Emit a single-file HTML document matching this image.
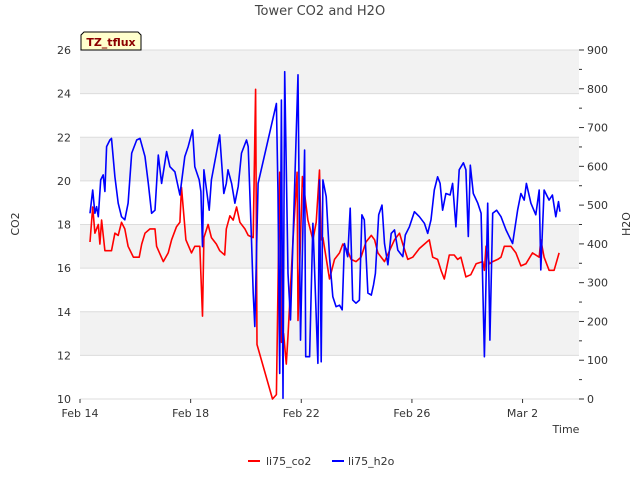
<!DOCTYPE html>
<html><head><meta charset="utf-8"><style>
body{margin:0;background:#fff;}
svg text{font-family:"DejaVu Sans","Liberation Sans",sans-serif;}
</style></head><body>
<svg id="chart" width="640" height="480" viewBox="0 0 640 480" xmlns="http://www.w3.org/2000/svg">
<text x="320" y="15" text-anchor="middle" font-size="13" fill="#444">Tower CO2 and H2O</text>
<g id="bands"></g>
<g id="grid"></g>
<g id="series"></g>
<g id="axes"></g>
<g>
<path d="M81,50 L81,35 L84,32 L138,32 L141,35 L141,50 Z" fill="#ffffcc" stroke="#000" stroke-width="1"/>
<text x="111" y="46" text-anchor="middle" font-size="11" font-weight="bold" fill="#8b0000">TZ_tflux</text>
</g>
<text transform="translate(19,224) rotate(-90)" text-anchor="middle" font-size="11" fill="#333">CO2</text>
<text transform="translate(630,224) rotate(-90)" text-anchor="middle" font-size="11" fill="#333">H2O</text>
<text x="566" y="433" text-anchor="middle" font-size="11" fill="#333">Time</text>
<g>
<line x1="248" y1="461" x2="260" y2="461" stroke="#f00" stroke-width="2"/>
<text x="266" y="465" font-size="11" fill="#333">li75_co2</text>
</g>
<g>
<line x1="332" y1="461" x2="344" y2="461" stroke="#00f" stroke-width="2"/>
<text x="348" y="465" font-size="11" fill="#333">li75_h2o</text>
</g>
</svg>
<script>
const xTickLabels=["Feb 14","Feb 18","Feb 22","Feb 26","Mar 2"];
const xTickDays=[0,4,8,12,16];
const leftTicks=[10,12,14,16,18,20,22,24,26];
const rightTicks=[0,100,200,300,400,500,600,700,800,900];
const co2Days=[0.36,0.46,0.54,0.66,0.72,0.78,0.90,1.14,1.26,1.38,1.50,1.62,1.74,1.93,2.14,2.23,2.35,2.53,2.71,2.77,3.01,3.19,3.31,3.49,3.61,3.67,3.83,4.03,4.15,4.33,4.43,4.48,4.63,4.75,4.93,5.05,5.23,5.29,5.42,5.54,5.66,5.78,5.96,6.08,6.26,6.35,6.40,6.96,7.10,7.22,7.28,7.36,7.46,7.52,7.70,7.85,7.88,8.04,8.24,8.42,8.54,8.66,8.72,8.78,9.02,9.20,9.38,9.50,9.68,9.80,9.98,10.16,10.34,10.53,10.65,10.77,11.01,11.19,11.37,11.55,11.67,11.85,12.03,12.27,12.45,12.63,12.75,12.93,13.05,13.17,13.35,13.53,13.65,13.77,13.95,14.13,14.32,14.56,14.62,14.68,14.80,14.92,15.10,15.22,15.34,15.58,15.76,15.94,16.12,16.36,16.60,16.66,16.78,16.96,17.14,17.32];
const co2Values=[17.2,18.8,17.6,18.0,17.1,18.2,16.8,16.8,17.6,17.5,18.1,17.8,17.0,16.5,16.5,17.1,17.6,17.8,17.8,17.0,16.3,16.7,17.3,17.9,18.1,19.7,17.3,16.7,17.0,17.0,13.8,17.4,18.0,17.4,17.1,16.8,16.6,17.8,18.4,18.2,18.8,18.1,17.8,17.5,17.4,24.2,12.5,10.0,10.2,20.4,12.6,13.0,11.6,12.9,17.3,20.4,13.6,20.2,18.2,17.3,18.1,20.5,17.3,17.4,15.5,16.4,16.7,17.1,16.8,16.4,16.3,16.5,17.2,17.5,17.3,16.7,16.3,16.8,17.3,17.6,17.1,16.4,16.5,16.9,17.1,17.3,16.5,16.4,15.9,15.5,16.6,16.6,16.4,16.5,15.6,15.7,16.2,16.3,15.9,17.0,16.2,16.3,16.4,16.5,17.0,17.0,16.7,16.1,16.2,16.7,16.5,17.3,16.5,15.9,15.9,16.7];
const h2oDays=[0.36,0.46,0.54,0.60,0.66,0.75,0.84,0.90,0.96,1.08,1.14,1.26,1.38,1.50,1.62,1.74,1.87,2.05,2.17,2.35,2.47,2.59,2.71,2.83,2.95,3.13,3.25,3.43,3.61,3.79,3.91,4.07,4.15,4.31,4.37,4.43,4.48,4.67,4.75,4.93,5.05,5.20,5.29,5.35,5.48,5.60,5.72,5.84,6.02,6.08,6.20,6.26,6.32,6.44,7.10,7.16,7.22,7.28,7.34,7.40,7.52,7.61,7.70,7.88,7.97,8.12,8.16,8.30,8.42,8.60,8.66,8.72,8.78,8.90,9.02,9.14,9.26,9.38,9.48,9.56,9.68,9.77,9.86,9.98,10.10,10.19,10.28,10.41,10.53,10.61,10.68,10.80,10.92,11.01,11.13,11.25,11.37,11.49,11.67,11.76,11.91,12.09,12.27,12.45,12.57,12.69,12.81,12.93,13.02,13.11,13.23,13.38,13.47,13.59,13.71,13.86,13.95,14.04,14.11,14.22,14.38,14.50,14.62,14.74,14.82,14.92,15.06,15.22,15.40,15.64,15.82,15.94,16.06,16.14,16.30,16.48,16.60,16.66,16.78,16.96,17.08,17.20,17.30,17.35];
const h2oValues=[479,539,479,496,470,565,578,535,651,668,672,573,505,470,462,505,634,668,672,625,556,479,487,629,556,638,599,586,526,625,651,694,599,565,535,393,591,487,565,634,681,530,556,591,556,505,548,634,668,651,410,273,187,556,762,530,66,771,2,844,324,204,410,836,152,642,109,109,453,92,565,96,565,522,367,264,238,242,230,401,367,492,255,247,255,475,462,273,268,294,324,475,500,401,346,427,436,384,367,423,444,483,470,453,427,462,539,573,556,487,530,526,556,444,591,609,591,419,603,530,505,479,109,505,152,479,487,470,436,401,487,530,513,556,505,475,539,333,539,513,526,470,509,483];

const NS="http://www.w3.org/2000/svg";
const X0=80,X1=579,Y0=50,Y1=399,PXD=27.66;
function xs(d){return X0+d*PXD;}
function yl(v){return Y1-(v-10)/16*(Y1-Y0);}
function yr(v){return Y1-v/900*(Y1-Y0);}
function mk(tag,attrs,parent){const e=document.createElementNS(NS,tag);for(const k in attrs)e.setAttribute(k,attrs[k]);parent.appendChild(e);return e;}
const bands=document.getElementById('bands'),grid=document.getElementById('grid'),axes=document.getElementById('axes'),series=document.getElementById('series');
mk('rect',{x:X0,y:Y0,width:X1-X0,height:Y1-Y0,fill:'#fff'},bands);
for(let i=0;i<leftTicks.length-1;i++){
  if(i%2===1){const r=mk('rect',{x:X0,y:yl(leftTicks[i+1]),width:X1-X0,height:yl(leftTicks[i])-yl(leftTicks[i+1]),fill:'#f2f2f2'},bands);
  
  }
}
leftTicks.forEach(v=>{
  const y=yl(v);
  const l=mk('line',{x1:X0,y1:y,x2:X1,y2:y,stroke:'#dcdcdc','stroke-width':1},grid);
  
  
  const t=mk('text',{x:71,y:y+4,'text-anchor':'end','font-size':11,fill:'#333'},axes);
  t.textContent=v;
  
  
});
rightTicks.forEach(v=>{
  const y=yr(v);
  mk('line',{x1:X1,y1:y,x2:X1+5,y2:y,stroke:'#333'},axes);
  if(v<900) mk('line',{x1:X1,y1:yr(v+50),x2:X1+3,y2:yr(v+50),stroke:'#333'},axes);
  const t=mk('text',{x:587,y:y+4,'font-size':11,fill:'#333'},axes);
  t.textContent=v;
  
  
});
xTickDays.forEach((d,i)=>{
  const x=xs(d);
  mk('line',{x1:x,y1:Y1,x2:x,y2:Y1+4,stroke:'#333'},axes);
  const t=mk('text',{x:x,y:Y1+18,'text-anchor':'middle','font-size':11,fill:'#333'},axes);
  t.textContent=xTickLabels[i];
  
  
});
function path(days,vals,sc,color,name){
  let d='';days.forEach((dd,i)=>{d+=(i?'L':'M')+xs(dd).toFixed(1)+','+sc(vals[i]).toFixed(1);});
  const p=mk('path',{d:d,fill:'none',stroke:color,'stroke-width':1.6,'stroke-linejoin':'round'},series);
  
  
}
path(co2Days,co2Values,yl,'#ff0000','co2-line');
path(h2oDays,h2oValues,yr,'#0000ff','h2o-line');
</script>
</body></html>
